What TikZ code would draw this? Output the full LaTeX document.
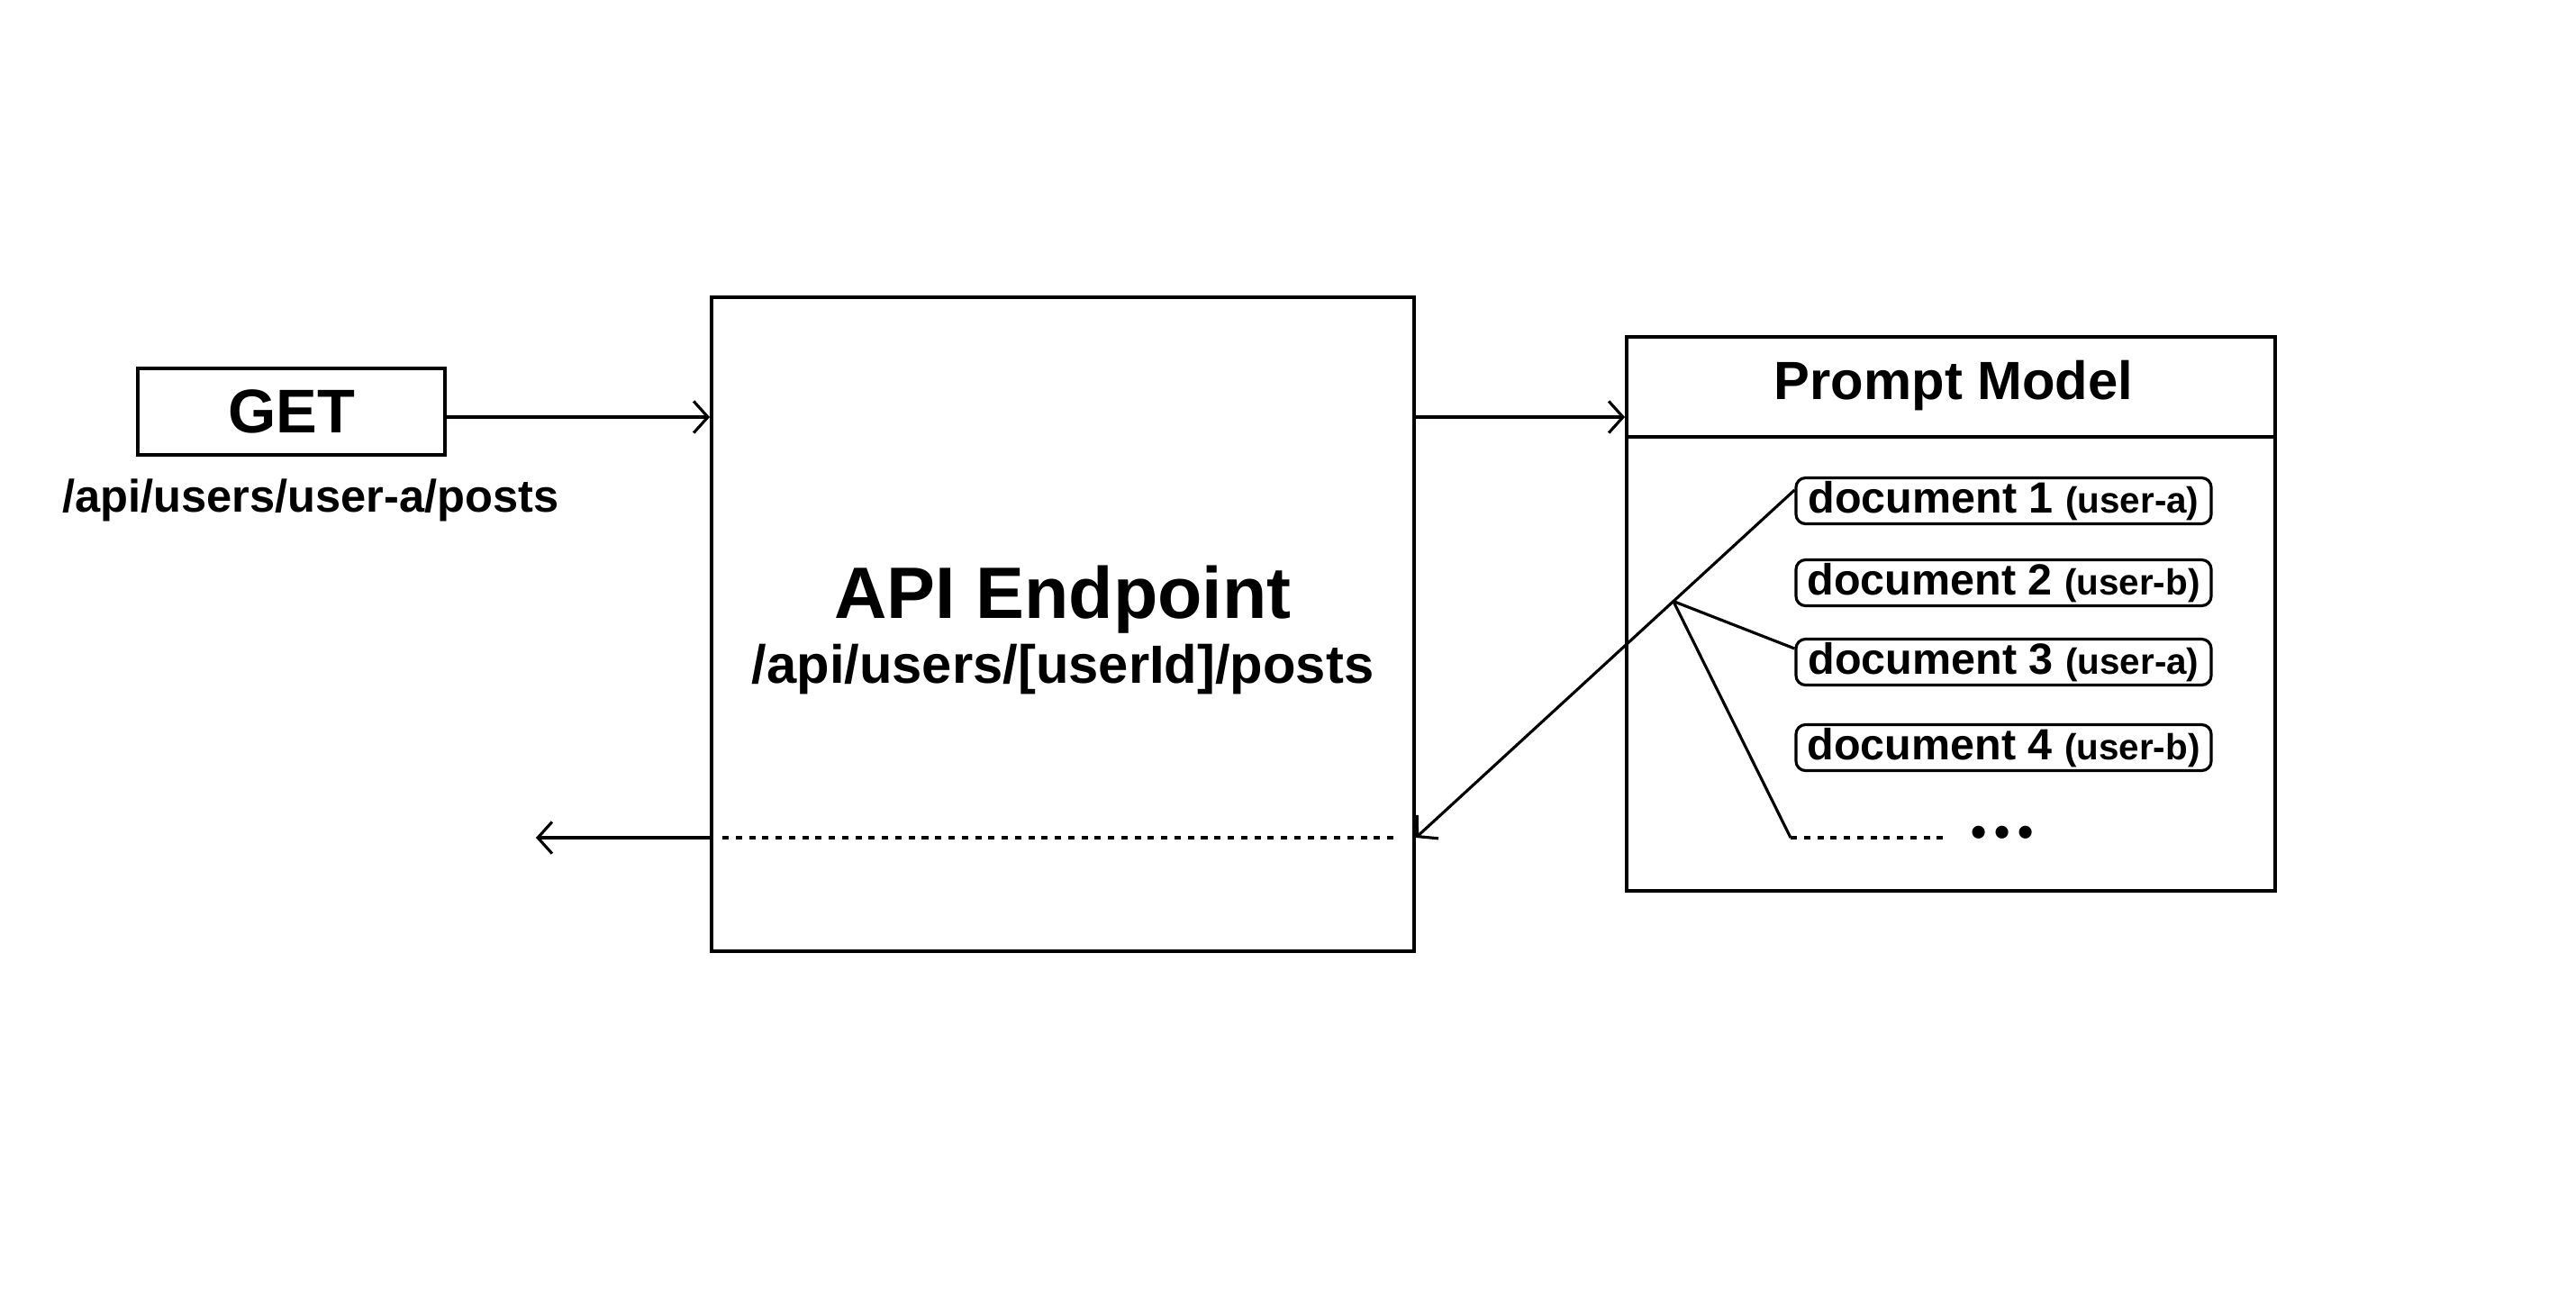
\documentclass[tikz,border=0pt]{standalone}
\usepackage{fontspec}
\setmainfont{Liberation Sans}
\usetikzlibrary{arrows.meta,calc,positioning}

\tikzset{
  box/.style={draw,line width=1.1pt,inner sep=0pt},
  docbox/.style={draw,line width=0.9pt,rounded corners=3pt,minimum width=4.61cm,
    minimum height=0.51cm,inner sep=0pt,font=\bfseries\fontsize{13.8pt}{16pt}\selectfont},
  link/.style={line width=0.9pt},
  arr/.style={line width=0.9pt,-{Straight Barb[length=4.5pt,width=10pt]}},
  dots/.style={line width=0.9pt,dash pattern=on 2pt off 2.2pt},
}
\newcommand{\usr}[1]{{\fontsize{11.5pt}{14pt}\selectfont(#1)}}

\begin{document}
\begin{tikzpicture}
            \useasboundingbox (0,0) rectangle (28.6,-14.4);
            % Request
            \node[box,minimum width=3.41cm,minimum height=0.96cm,
                  font=\bfseries\fontsize{19.5pt}{22pt}\selectfont] (get) at (3.235,-4.57) {GET};
            \node[font=\bfseries\fontsize{14.4pt}{17pt}\selectfont] (url) at (3.45,-5.55) {/api/users/user-a/posts};
            % Endpoint
            \node[box,minimum width=7.8cm,minimum height=7.26cm] (api) at (11.8,-6.93) {};
            \node[font=\bfseries\fontsize{23pt}{27pt}\selectfont] (apititle) at (11.8,-6.66) {API Endpoint};
            \node[font=\bfseries\fontsize{17pt}{20pt}\selectfont] (apipath) at (11.8,-7.43) {/api/users/[userId]/posts};
            % Prompt model
            \node[box,minimum width=7.2cm,minimum height=6.15cm] (model) at (21.66,-6.815) {};
            \draw[line width=1.1pt] (model.west |- 0,-4.85) -- (model.east |- 0,-4.85);
            \node[font=\bfseries\fontsize{17pt}{20pt}\selectfont] (modeltitle) at (21.69,-4.28) {Prompt Model};
            % Documents
            \foreach \i/\y/\u in {1/-5.56/user-a,2/-6.47/user-b,3/-7.35/user-a,4/-8.30/user-b}
              \node[docbox] (doc\i) at (22.245,\y) {document \i\ \usr{\u}};
            % Request flow
            \coordinate (req) at (get.east |- 0,-4.63);
            \draw[arr] (req) -- (req -| api.west);
            \draw[arr] (api.east |- req) -- (req -| model.west);
            % Response
            \coordinate (ret) at (api.east |- 0,-9.30);
            \coordinate (out) at (5.95,-9.30);
            \draw[arr] (api.west |- ret) -- (out);
            \draw[dots] ($(api.west |- ret)+(0.14,0)$) -- ($(ret)+(-0.2,0)$);
            % Lookup
            \draw[arr] ([yshift=0.12cm]doc1.west) -- coordinate[pos=0.32] (junc) (ret);
            \coordinate (rest) at (19.88,-9.30);
            \draw[link] (junc) -- ([yshift=0.15cm]doc3.west);
            \draw[link] (junc) -- (rest);
            \draw[dots] (rest) -- (21.58,-9.30);
            \node[font=\bfseries\fontsize{14pt}{16pt}\selectfont] (more) at (22.23,-9.29) {•\kern2.5pt•\kern2.5pt•};
        \end{tikzpicture}
\end{document}
